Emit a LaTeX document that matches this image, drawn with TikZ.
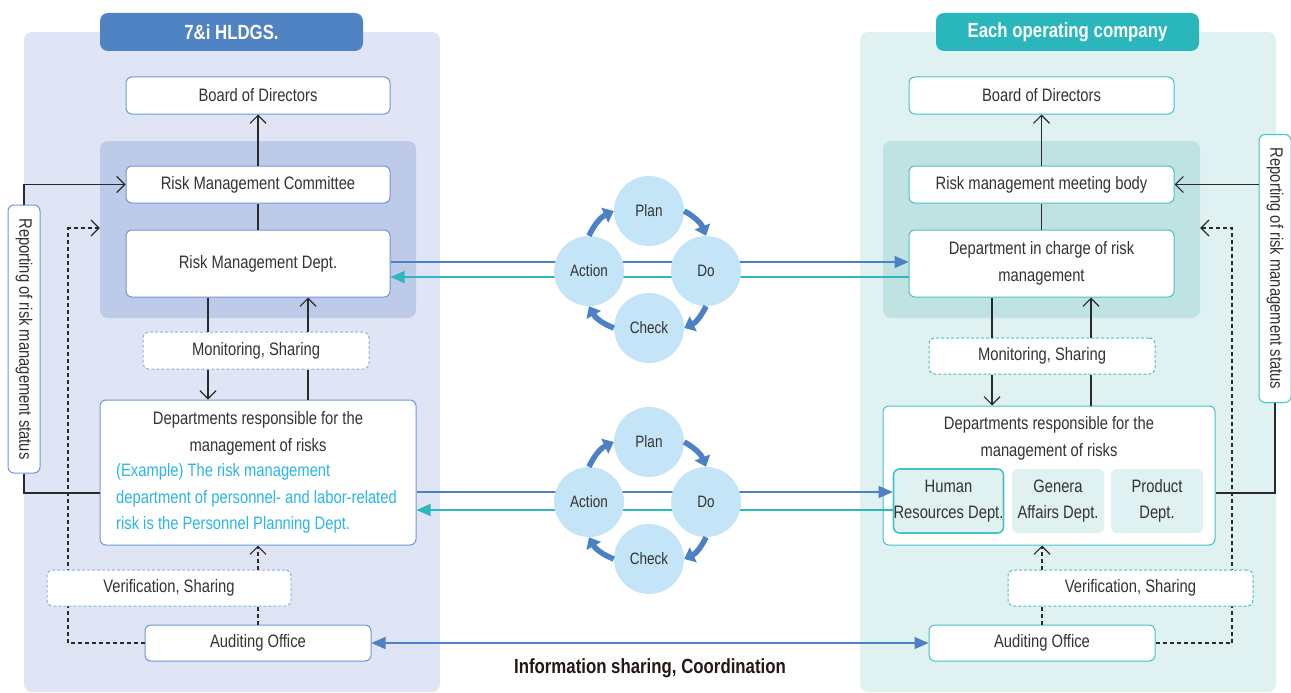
\documentclass[tikz,border=0pt]{standalone}
\usepackage{fontspec}
\setmainfont{Liberation Sans}[FakeStretch=0.82]
\usepackage{xcolor}
\usetikzlibrary{arrows.meta,positioning}
\definecolor{lbg}{HTML}{E0E5F5}
\definecolor{linnerc}{HTML}{BDCBE8}
\definecolor{lhdrc}{HTML}{4F83C4}
\definecolor{lline}{HTML}{6F98D8}
\definecolor{ldashc}{HTML}{8CB1E8}
\definecolor{rbg}{HTML}{E0F1F1}
\definecolor{rinnerc}{HTML}{BFE2E2}
\definecolor{rhdrc}{HTML}{29B7BB}
\definecolor{rline}{HTML}{45C2C5}
\definecolor{cfill}{HTML}{C4E5F7}
\definecolor{arrblue}{HTML}{4C82C5}
\definecolor{tealc}{HTML}{2CB8BC}
\definecolor{exblue}{HTML}{2BB5EA}
\definecolor{txtgray}{HTML}{333333}
\definecolor{linec}{HTML}{2A2A2A}
\definecolor{infoc}{HTML}{231815}

\tikzset{
  plain/.style={inner sep=0pt, text=txtgray, align=center,
    font=\fontsize{18}{26.5}\selectfont},
  box/.style={plain, draw, rounded corners=6pt, fill=white, line width=1pt},
  lbox/.style={box, draw=lline},
  rbox/.style={box, draw=rline},
  ldash/.style={lbox, draw=ldashc, dash pattern=on 3pt off 2pt},
  rdash/.style={rbox, dash pattern=on 3pt off 2pt},
  subbox/.style={plain, rounded corners=6pt, fill=rbg,
    minimum width=92pt, minimum height=64pt},
  panel/.style={rounded corners=8pt, inner sep=0pt},
  hdr/.style={panel, text=white, minimum width=263pt, minimum height=38pt,
    font=\fontsize{20.5}{24}\selectfont\bfseries},
  report/.style={rotate=-90, minimum width=268pt, minimum height=32pt},
  conn/.style={draw=linec, line width=1.2pt},
  dconn/.style={conn, dash pattern=on 4pt off 3pt},
  pdca/.style={circle, fill=cfill, minimum size=70pt, inner sep=0pt,
    text=txtgray, font=\fontsize{16.5}{18}\selectfont},
  cyc/.style={draw=arrblue, line width=5.5pt, -{Triangle[length=10pt,width=16pt]}},
  bline/.style={draw=arrblue, line width=1.3pt, -{Triangle[length=14pt,width=12pt]}},
  tline/.style={draw=tealc, line width=1.3pt, -{Triangle[length=14pt,width=12pt]}},
}

\begin{document}
\begin{tikzpicture}[x=1pt,y=-1pt,>={Straight Barb[length=8pt,width=16pt]}]
\useasboundingbox (0,0) rectangle (1291,693);

% backgrounds
\node[panel, fill=lbg, minimum width=416pt, minimum height=660pt] (lpanel) at (232,362) {};
\node[panel, fill=rbg, minimum width=416pt, minimum height=660pt] (rpanel) at (1068,362) {};
\node[hdr, fill=lhdrc] (lhdr) at (231.5,32) {7\&i HLDGS.};
\node[hdr, fill=rhdrc] (rhdr) at (1067.5,32) {Each operating company};
\node[panel, fill=linnerc, minimum width=316pt, minimum height=177pt] (linner) at (258,229.5) {};
\node[panel, fill=rinnerc, minimum width=317pt, minimum height=177pt] (rinner) at (1041.5,229.5) {};

% 7&i HLDGS.
\node[lbox, minimum width=264pt, minimum height=37pt] (lboard) at (258,95.5) {Board of Directors};
\node[lbox, minimum width=264pt, minimum height=37pt] (lrmc) at (258,184.5) {Risk Management Committee};
\node[lbox, minimum width=264pt, minimum height=67pt] (lrmd) at (258,263.5) {Risk Management Dept.};
\node[ldash, minimum width=226pt, minimum height=37pt] (lmon) at (256,350.5) {Monitoring, Sharing};
\node[lbox, minimum width=316pt, minimum height=145pt] (ldep) at (258,472.5) {};
\node[plain, anchor=north] (ldeptitle) at (258,411.5) {Departments responsible for the\\management of risks};
\node[plain, text=exblue, align=left, anchor=north west] (lexample) at (116,463.5)
  {(Example) The risk management\\department of personnel- and labor-related\\risk is the Personnel Planning Dept.};
\node[lbox, minimum width=226pt, minimum height=36pt] (laud) at (258,643) {Auditing Office};
\node[lbox, report] (lrep) at (24,339) {Reporting of risk management status};
\coordinate (lbend) at (68,228);
\draw[dconn,->] (laud.west) -| (lbend) -- (linner.west |- lbend);
\node[ldash, minimum width=244pt, minimum height=36pt] (lver) at (169,588) {Verification, Sharing};

% Each operating company
\node[rbox, minimum width=265pt, minimum height=37pt] (rboard) at (1041.5,95.5) {Board of Directors};
\node[rbox, minimum width=265pt, minimum height=37pt] (rrmb) at (1041.5,184.5) {Risk management meeting body};
\node[rbox, minimum width=265pt, minimum height=67pt] (rdic) at (1041.5,263.5) {Department in charge of risk\\management};
\node[rdash, minimum width=226pt, minimum height=36pt] (rmon) at (1042,356) {Monitoring, Sharing};
\node[rbox, minimum width=332pt, minimum height=139pt] (rdep) at (1049,475.5) {};
\node[plain, anchor=north] (rdeptitle) at (1049,416.5) {Departments responsible for the\\management of risks};
\node[subbox, draw=rline, line width=1.6pt, minimum width=107pt] (rhr) at (948.5,501) {Human\\Resources Dept.};
\node[subbox] (rga) at (1058,501) {Genera\\Affairs Dept.};
\node[subbox] (rpd) at (1157,501) {Product\\Dept.};
\node[rbox, minimum width=226pt, minimum height=36pt] (raud) at (1042,643) {Auditing Office};
\node[rbox, report] (rrep) at (1275,268.5) {Reporting of risk management status};
\coordinate (rbend) at (1232,228);
\draw[dconn,->] (raud.east) -| (rbend) -- (rinner.east |- rbend);
\node[rdash, minimum width=245pt, minimum height=36pt] (rver) at (1130.5,588) {Verification, Sharing};

% connectors, left
\draw[conn,->] (lrmc.north) -- (lboard.south);
\draw[conn] (lrmd.north) -- (lrmc.south);
\draw[conn,->] (lrep.west) |- (lrmc.west);
\draw[conn] (lrep.east) |- (ldep.west |- 0,493);
\draw[conn] (lrmd.south -| 208,0) -- (lmon.north -| 208,0);
\draw[conn,->] (lmon.south -| 208,0) -- (ldep.north -| 208,0);
\draw[conn] (ldep.north -| 308,0) -- (lmon.south -| 308,0);
\draw[conn,->] (lmon.north -| 308,0) -- (lrmd.south -| 308,0);
\draw[dconn] (laud.north) -- (lver.south -| laud.north);
\draw[dconn,->] (lver.north -| laud.north) -- (ldep.south);

% connectors, right
\draw[conn,->] (rrmb.north) -- (rboard.south);
\draw[conn] (rdic.north) -- (rrmb.south);
\draw[conn,->] (rrep.south |- rrmb.east) -- (rrmb.east);
\draw[conn] (rrep.east) |- (rdep.east |- 0,493);
\draw[conn] (rdic.south -| 992,0) -- (rmon.north -| 992,0);
\draw[conn,->] (rmon.south -| 992,0) -- (rdep.north -| 992,0);
\draw[conn] (rdep.north -| 1091,0) -- (rmon.south -| 1091,0);
\draw[conn,->] (rmon.north -| 1091,0) -- (rdic.south -| 1091,0);
\draw[dconn] (raud.north) -- (rver.south -| raud.north);
\draw[dconn,->] (rver.north -| raud.north) -- (rdep.south -| raud.north);

% between the two sides
\draw[bline] (lrmd.east |- 0,262) -- (rdic.west |- 0,262);
\draw[tline] (rdic.west |- 0,277) -- (lrmd.east |- 0,277);
\draw[bline] (ldep.east |- 0,492) -- (rhr.west |- 0,492);
\draw[tline] (rhr.west |- 0,510) -- (ldep.east |- 0,510);
\draw[bline, {Triangle[length=14pt,width=12pt]}-{Triangle[length=14pt,width=12pt]}] (laud.east) -- (raud.west)
  node[midway, below=15pt, inner sep=0pt, text=infoc, font=\fontsize{20.5}{24}\selectfont\bfseries] (info) {Information sharing, Coordination};

% PDCA cycles
\node[pdca] (tplan) at (649,211) {Plan};
\node[pdca] (tact) at (589,271) {Action};
\node[pdca] (tdo) at (706,271) {Do};
\node[pdca] (tcheck) at (649,328) {Check};
\draw[cyc] (tact.north) to[bend left=20] (tplan.west);
\draw[cyc] (tplan.east) to[bend left=20] (tdo.north);
\draw[cyc] (tdo.south) to[bend left=20] (tcheck.east);
\draw[cyc] (tcheck.west) to[bend left=20] (tact.south);

\node[pdca] (bplan) at (649,442) {Plan};
\node[pdca] (bact) at (589,502) {Action};
\node[pdca] (bdo) at (706,502) {Do};
\node[pdca] (bcheck) at (649,559) {Check};
\draw[cyc] (bact.north) to[bend left=20] (bplan.west);
\draw[cyc] (bplan.east) to[bend left=20] (bdo.north);
\draw[cyc] (bdo.south) to[bend left=20] (bcheck.east);
\draw[cyc] (bcheck.west) to[bend left=20] (bact.south);
\end{tikzpicture}
\end{document}
